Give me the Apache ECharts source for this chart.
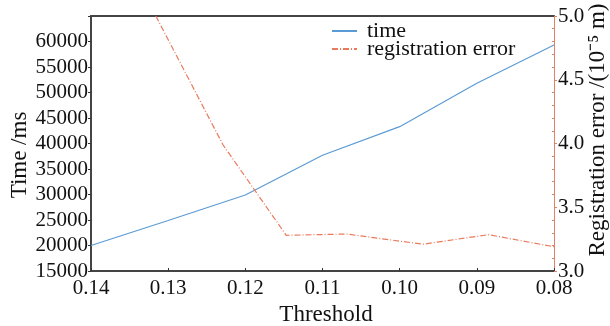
<!DOCTYPE html>
<html>
<head>
<meta charset="utf-8">
<script src="https://cdn.jsdelivr.net/npm/echarts@6/dist/echarts.min.js"></script>
<style>html,body{margin:0;padding:0;background:#fff;}#c{width:610px;height:326px;}</style>
</head>
<body>
<div id="c"></div>
<script>
// Data
const timeThresholds = [0.14, 0.13, 0.12, 0.11, 0.10, 0.09, 0.08];
const timeValues = [20000, 24900, 29900, 37700, 43300, 51800, 59300];
const errThresholds = [0.1316, 0.1229, 0.1147, 0.1069, 0.0970, 0.0885, 0.08];
const errValues = [5.0, 3.99, 3.28, 3.29, 3.21, 3.285, 3.19];
const xTicks = [0.14, 0.13, 0.12, 0.11, 0.10, 0.09, 0.08];
const seriesNames = ['time', 'registration error'];
const leftTitle = 'Time /ms';
const rightTitle = 'Registration error /(10⁻⁵ m)';

const FONT = 'Liberation Serif';
const chart = echarts.init(document.getElementById('c'), null, {renderer: 'canvas'});
chart.setOption({
  animation: false,
  backgroundColor: '#fff',
  grid: {left: 91, right: 56, top: 16, bottom: 55, containLabel: false, outerBoundsMode: 'none'},
  legend: {
    left: 326, top: 15, orient: 'vertical', itemGap: -4, itemWidth: 25, itemHeight: 14,
    itemStyle: {opacity: 0},
    textStyle: {fontFamily: FONT, fontSize: 22, color: '#111', padding: [0, 0, 0, 5]},
    data: seriesNames
  },
  graphic: [{
    type: 'text', x: 20, y: 155, rotation: Math.PI / 2,
    style: {text: leftTitle, font: '23px "Liberation Serif"', fill: '#111', textAlign: 'center', textVerticalAlign: 'middle'}
  }, {
    type: 'text', x: 598, y: 130, rotation: Math.PI / 2,
    style: {text: rightTitle, font: '23px "Liberation Serif"', fill: '#111', textAlign: 'center', textVerticalAlign: 'middle'}
  }],
  xAxis: [{
    type: 'value', inverse: true, min: 0.08, max: 0.14, interval: 0.01,
    name: 'Threshold', nameLocation: 'middle', nameGap: 28,
    nameTextStyle: {fontFamily: FONT, fontSize: 23, color: '#111', padding: [0, 0, 0, 7]},
    axisLine: {lineStyle: {color: '#444', width: 2}},
    axisTick: {inside: true, length: 3, lineStyle: {color: '#333'}},
    splitLine: {show: false},
    axisLabel: {fontFamily: FONT, fontSize: 21, color: '#111', margin: 7,
      formatter: v => xTicks.some(t => Math.abs(t - v) < 1e-6) ? v.toFixed(2) : ''}
  }, {
    type: 'value', inverse: true, min: 0.08, max: 0.14, position: 'top',
    axisLine: {show: true, lineStyle: {color: '#444', width: 2}},
    axisTick: {show: false}, axisLabel: {show: false}, splitLine: {show: false}
  }],
  yAxis: [{
    type: 'value', min: 15000, max: 65000, interval: 5000, position: 'left',
    axisLine: {show: true, lineStyle: {color: '#444', width: 2}},
    axisTick: {show: true, length: 3, lineStyle: {color: '#333'}},
    splitLine: {show: false},
    axisLabel: {fontFamily: FONT, fontSize: 21, color: '#111', margin: 3,
      formatter: v => v >= 65000 ? '' : String(v)}
  }, {
    type: 'value', min: 3, max: 5, interval: 0.5, position: 'right',
    axisLine: {show: true, lineStyle: {color: '#e0826a', width: 1}},
    axisTick: {show: true, length: 3, lineStyle: {color: '#e0826a'}},
    minorTick: {show: true, splitNumber: 5, length: -2, lineStyle: {color: '#e0826a'}},
    splitLine: {show: false},
    axisLabel: {fontFamily: FONT, fontSize: 21, color: '#111', margin: 4,
      formatter: v => v.toFixed(1)}
  }],
  series: [{
    name: seriesNames[0], type: 'line', yAxisIndex: 0, symbol: 'none',
    lineStyle: {color: '#5b9bd5', width: 1.2}, itemStyle: {color: '#5b9bd5'},
    data: timeThresholds.map((t, i) => [t, timeValues[i]])
  }, {
    name: seriesNames[1], type: 'line', yAxisIndex: 1, symbol: 'none',
    lineStyle: {color: '#ea7a5c', width: 1.2, type: [6, 2, 1, 2]}, itemStyle: {color: '#ea7a5c'},
    data: errThresholds.map((t, i) => [t, errValues[i]])
  }]
});
</script>
</body>
</html>
